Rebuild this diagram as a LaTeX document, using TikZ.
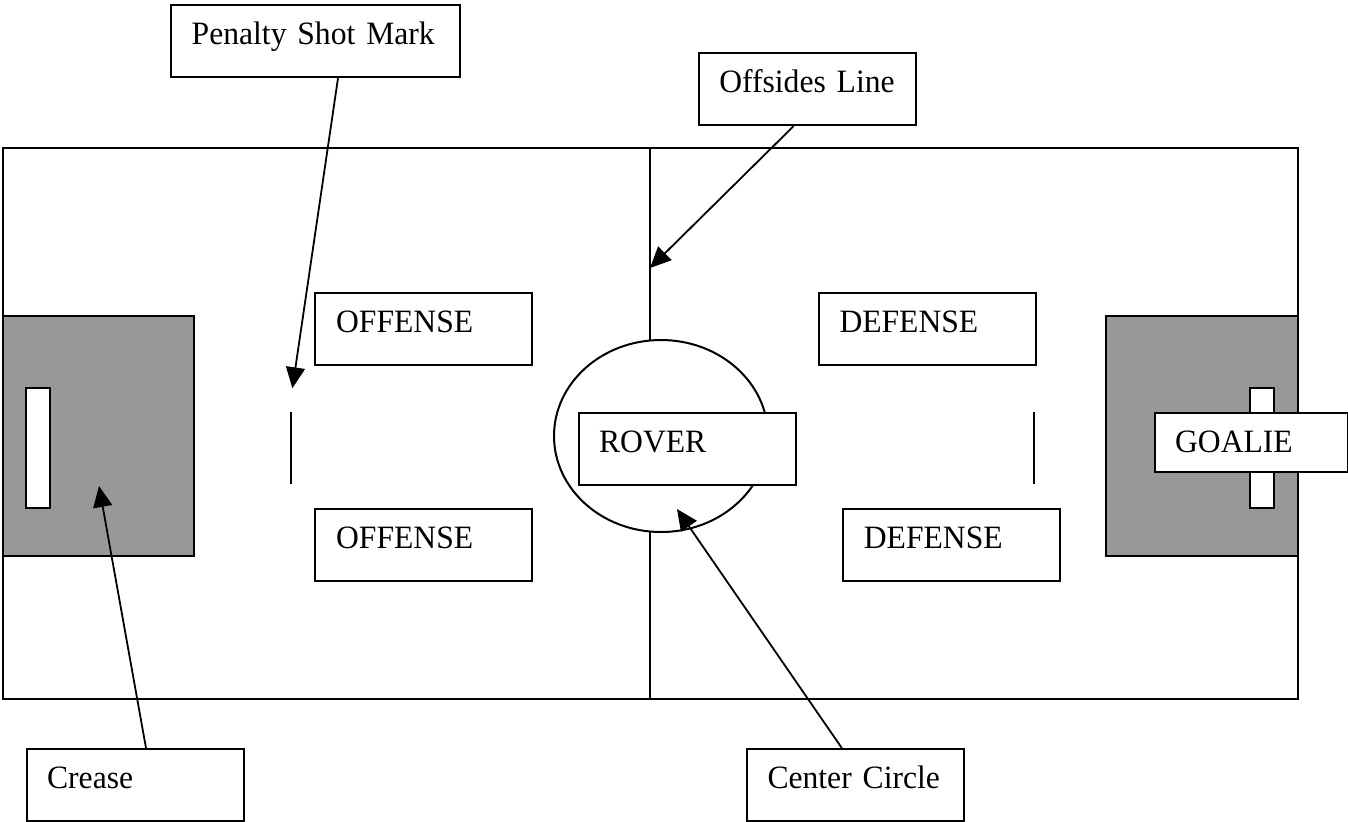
\documentclass[tikz,border=0pt]{standalone}
\usepackage{fontspec}
\setmainfont{Liberation Serif}[FakeStretch=0.97]
\usetikzlibrary{arrows.meta,calc}
\definecolor{creasegray}{RGB}{152,152,152}
\begin{document}
\begin{tikzpicture}[x=0.5pt,y=-0.5pt,
  fieldline/.style={draw=black, line width=1pt},
  lbl/.style={draw=black, line width=1.1pt, fill=white, inner sep=0pt, anchor=north west,
    align=left, font=\fontsize{16.3}{19}\selectfont, text width=108.25pt,
    text height=19.5pt, text depth=16.5pt},
  ptr/.style={draw=black, line width=0.9pt, -{Triangle[length=10.5pt,width=9.5pt]}},
  creasebox/.style={fill=creasegray, draw=black, line width=1.1pt},
  goalmouth/.style={fill=white, draw=black, line width=1pt}]
\useasboundingbox (0,0) rectangle (1348,821);
% rink
\draw[fieldline] (3,148) rectangle (1298,699);
\coordinate (ctop) at (650,148);
\coordinate (cbot) at (650,699);
\coordinate (cc1) at (650,340);
\coordinate (cc2) at (650,532);
\draw[fieldline] (ctop) -- (cc1);
\draw[fieldline] (cc2) -- (cbot);
% creases
\draw[creasebox] (3,316) rectangle (194,556);
\draw[goalmouth] (26,388) rectangle (50,508);
\draw[creasebox] (1106,316) rectangle (1298,556);
\draw[goalmouth] (1250,388) rectangle (1274,508);
% penalty shot marks
\draw[fieldline] (290.6,412) -- (290.6,484);
\draw[fieldline] (1034,412) -- (1034,484);
% center circle
\draw[fieldline] (661,436) ellipse [x radius=107, y radius=96];
% label boxes
\node[lbl, text width=144.5pt] (pen) at (169.6,4) {\hspace*{10.5pt}Penalty Shot Mark};
\node[lbl] (offs) at (698,52) {\hspace*{10.1pt}Offsides Line};
\node[lbl] (off1) at (314,292) {\hspace*{10.5pt}OFFENSE};
\node[lbl] (off2) at (314,508) {\hspace*{10.5pt}OFFENSE};
\node[lbl] (def1) at (818,292) {\hspace*{10.2pt}DEFENSE};
\node[lbl] (def2) at (842,508) {\hspace*{10.4pt}DEFENSE};
\node[lbl] (rover) at (578,412) {\hspace*{10pt}ROVER};
\node[lbl, text width=96.4pt, text depth=10pt] (goalie) at (1154,412) {\hspace*{10pt}GOALIE};
\node[lbl] (crease) at (26,748) {\hspace*{10pt}Crease};
\node[lbl] (cc) at (746,748) {\hspace*{10.2pt}Center Circle};
% pointers
\coordinate (pentip) at (292.4,388.3);
\coordinate (offtip) at (650,268);
\coordinate (creasetip) at (99,486);
\coordinate (cctip) at (677,509);
\draw[ptr] (338,0 |- pen.south) -- (pentip);
\draw[ptr] (793.5,0 |- offs.south) -- (offtip);
\draw[ptr] (146,0 |- crease.north) -- (creasetip);
\draw[ptr] (841.8,0 |- cc.north) -- (cctip);
\end{tikzpicture}
\end{document}
